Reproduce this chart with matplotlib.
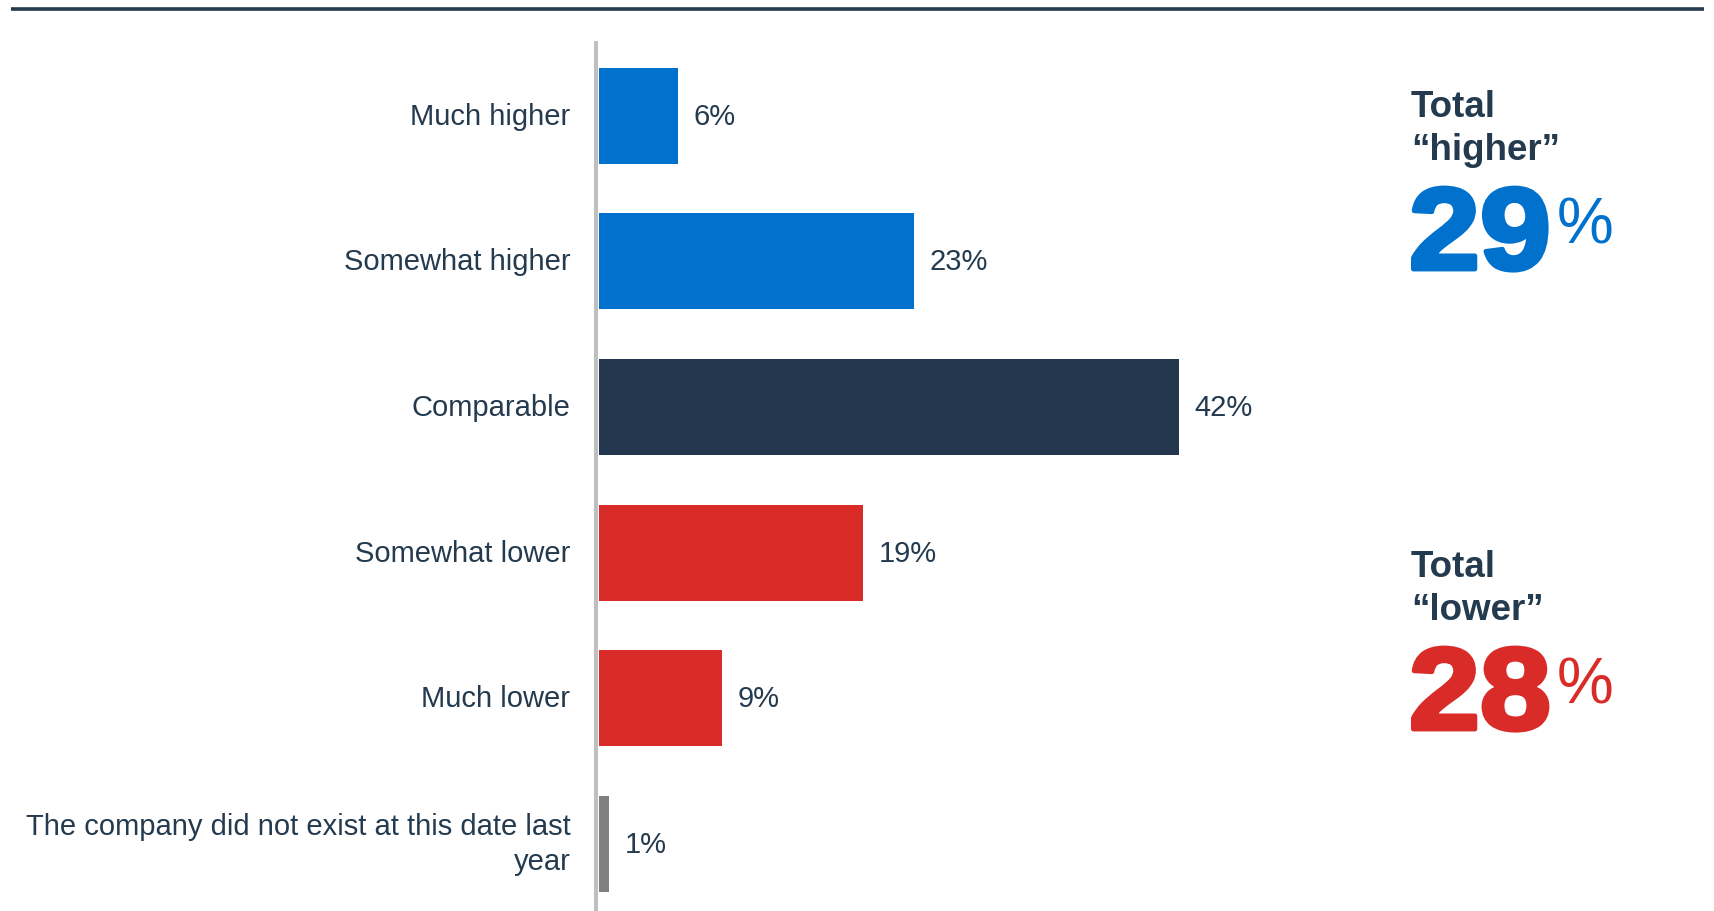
import matplotlib
matplotlib.use("Agg")
import matplotlib.pyplot as plt
from matplotlib.lines import Line2D
from matplotlib.transforms import Affine2D
import matplotlib.patheffects as pe

categories = ["Much higher", "Somewhat higher", "Comparable", "Somewhat lower",
              "Much lower", "The company did not exist at this date last\nyear"]
values = [5.7, 22.8, 42.0, 19.1, 8.9, 0.7]
value_labels = ["6%", "23%", "42%", "19%", "9%", "1%"]
bar_colors = ["#0072CE", "#0072CE", "#22374D", "#D92B27", "#D92B27", "#808080"]

total_higher = "29"
total_lower = "28"

TEXT = "#243A4E"
W, H = 1715, 912
plt.rcParams['font.family'] = ['Liberation Sans', 'DejaVu Sans']


class HeavyStretch(pe.AbstractPathEffect):
    """Draw glyphs thicker (stroke) and a little wider, like a black-weight face."""
    def __init__(self, sx, x0, lw, color):
        super().__init__()
        self.sx, self.x0, self.lw, self.color = sx, x0, lw, color

    def draw_path(self, renderer, gc, tpath, affine, rgbFace=None):
        aff = affine + Affine2D().translate(-self.x0, 0).scale(self.sx, 1).translate(self.x0, 0)
        gc0 = renderer.new_gc()
        gc0.copy_properties(gc)
        gc0.set_linewidth(self.lw)
        gc0.set_foreground(self.color)
        gc0.set_joinstyle("round")
        renderer.draw_path(gc0, tpath, aff, rgbFace)
        gc0.restore()


fig = plt.figure(figsize=(W / 100, H / 100), dpi=100)
fig.patch.set_facecolor("white")

ax_left, ax_top = 599, 44
px_per_unit = 13.8
xmax = 80
ax = fig.add_axes([ax_left / W, 0, xmax * px_per_unit / W, (H - ax_top) / H])
row = 145.6

for s in ["top", "right", "bottom"]:
    ax.spines[s].set_visible(False)
ax.spines["left"].set_position(("outward", 1.8))
ax.spines["left"].set_color("#BFBFBF")
ax.spines["left"].set_linewidth(2.9)

ax.set_xlim(0, xmax)
ax.set_ylim(-0.5 + (H - ax_top) / row, -0.5)

ypos = list(range(len(categories)))
ax.barh(ypos, values, height=0.66, color=bar_colors, zorder=3)

for y, v, lab in zip(ypos, values, value_labels):
    ax.annotate(lab, (v, y), xytext=(11.5, 0), textcoords="offset points",
                va="center", ha="left", fontsize=21, color=TEXT)

ax.set_yticks(ypos)
ax.set_yticklabels(categories, fontsize=21, color=TEXT, ha="right", va="center",
                   linespacing=1.3)
ax.tick_params(axis="y", length=0, pad=18.8)
ax.set_xticks([])

# top rule
fig.add_artist(Line2D([11 / W, 1704 / W], [1 - 9.5 / H] * 2, color="#243A4E",
                      lw=2.6, solid_capstyle="butt"))


def fy(py):
    return 1 - py / H


def block(dy, word, num, color):
    fig.text(1411 / W, fy(117 + dy), "Total", fontsize=26.5, fontweight="bold",
             color=TEXT, va="baseline", ha="left")
    fig.text(1411 / W, fy(160 + dy), "\u201c" + word + "\u201d", fontsize=26.5,
             fontweight="bold", color=TEXT, va="baseline", ha="left")
    x0 = 1409
    t = fig.text(x0 / W, fy(270 + dy), num, fontsize=83.5, fontweight="bold",
                 color=color, va="baseline", ha="left")
    t.set_path_effects([HeavyStretch(1.1, x0, 3.5, color)])
    fig.text(1557 / W, fy(243 + dy), "%", fontsize=46, color=color,
             va="baseline", ha="left")


block(0, "higher", total_higher, "#0072CE")
block(460, "lower", total_lower, "#D92B27")

fig.savefig("out.png", dpi=100, facecolor="white")
